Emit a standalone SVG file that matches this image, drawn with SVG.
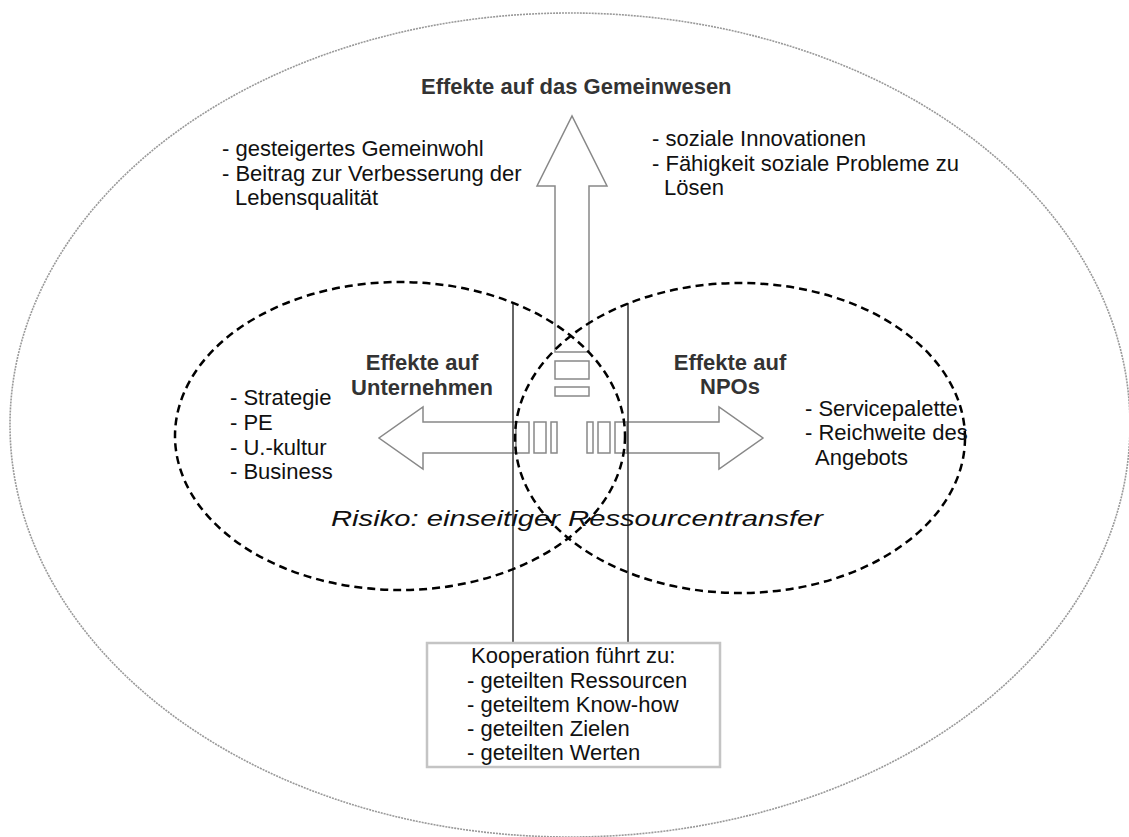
<svg xmlns="http://www.w3.org/2000/svg" width="1129" height="837" viewBox="0 0 1129 837">
<style>
text{font-family:"Liberation Sans",Arial,sans-serif;font-size:22px;fill:#111}
.b{font-weight:bold;fill:#333}
.arrow{fill:#fff;stroke:#888;stroke-width:1.5}
.dash{fill:none;stroke:#000;stroke-width:2.5;stroke-dasharray:8 5}
.vline{stroke:#333;stroke-width:1.5}
</style>
<rect width="1129" height="837" fill="#fff"/>
<g id="outer"><ellipse cx="570" cy="425" rx="560" ry="412" fill="none" stroke="#999" stroke-width="1.6" stroke-dasharray="2 1"/></g>
<g id="arrows">
<polygon class="arrow" points="555,352 555,186 537,186 572,116 607,186 589,186 589,352"/>
<rect class="arrow" x="555" y="361" width="34" height="18"/>
<rect class="arrow" x="555" y="387" width="34" height="9"/>
<polygon class="arrow" points="516,422 423,422 423,407 379,438 423,469 423,453 516,453"/>
<rect class="arrow" x="516" y="422" width="13" height="31"/>
<rect class="arrow" x="534" y="422" width="12" height="31"/>
<rect class="arrow" x="551" y="422" width="6" height="31"/>
<polygon class="arrow" points="627,422 719,422 719,407 763,438 719,469 719,453 627,453"/>
<rect class="arrow" x="615" y="422" width="12" height="31"/>
<rect class="arrow" x="598" y="422" width="12" height="31"/>
<rect class="arrow" x="587" y="422" width="6" height="31"/>
</g>
<g id="connectors">
<line class="vline" x1="513" y1="303" x2="513" y2="643"/>
<line class="vline" x1="628" y1="303" x2="628" y2="643"/>
</g>
<g id="unternehmen">
<ellipse class="dash" cx="400" cy="436" rx="225" ry="154"/>
<text class="b" x="422" y="370" text-anchor="middle">Effekte auf</text>
<text class="b" x="422" y="395" text-anchor="middle">Unternehmen</text>
<text x="230" y="405">- Strategie</text>
<text x="230" y="430">- PE</text>
<text x="230" y="455">- U.-kultur</text>
<text x="230" y="479">- Business</text>
</g>
<g id="npos">
<ellipse class="dash" cx="740" cy="438" rx="225" ry="155"/>
<text class="b" x="730" y="370" text-anchor="middle">Effekte auf</text>
<text class="b" x="730" y="394" text-anchor="middle">NPOs</text>
<text x="805" y="416">- Servicepalette</text>
<text x="805" y="440">- Reichweite des</text>
<text x="815" y="465">Angebots</text>
</g>
<g id="gemeinwesen">
<text class="b" x="421" y="94">Effekte auf das Gemeinwesen</text>
<text x="222" y="156">- gesteigertes Gemeinwohl</text>
<text x="222" y="181">- Beitrag zur Verbesserung der</text>
<text x="235" y="205">Lebensqualität</text>
<text x="652" y="146">- soziale Innovationen</text>
<text x="652" y="171">- Fähigkeit soziale Probleme zu</text>
<text x="664" y="195">Lösen</text>
</g>
<g id="risiko">
<text x="331" y="526" font-style="italic" font-size="26" textLength="492" lengthAdjust="spacingAndGlyphs">Risiko: einseitiger Ressourcentransfer</text>
</g>
<g id="kooperation">
<rect x="427" y="643" width="293" height="124" fill="#fff" stroke="#c4c4c4" stroke-width="2.5"/>
<text x="471" y="663">Kooperation führt zu:</text>
<text x="467" y="687.5">- geteilten Ressourcen</text>
<text x="467" y="712">- geteiltem Know-how</text>
<text x="467" y="736">- geteilten Zielen</text>
<text x="467" y="760">- geteilten Werten</text>
</g>
</svg>
